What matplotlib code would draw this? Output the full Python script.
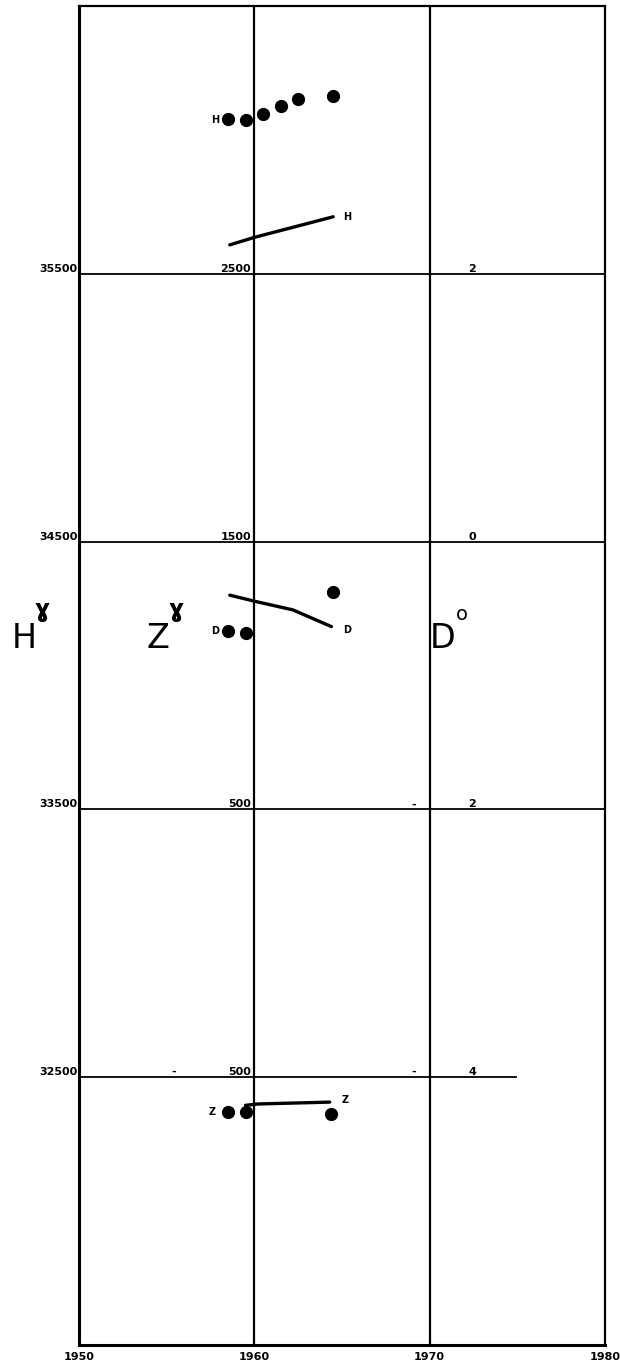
import matplotlib
matplotlib.use("Agg")
import matplotlib.pyplot as plt

# Observatory annual means: H, Z (gamma) and D (degrees) on one sheet.
years_h_dots = [1958.5, 1959.5, 1960.5, 1961.5, 1962.5, 1964.5]
h_dots = [36079, 36075, 36097, 36127, 36153, 36165]

years_h_line = [1958.6, 1960.0, 1964.5]
h_line = [35608, 35636, 35713]

years_d_dots = [1958.5, 1959.5, 1964.5]
d_dots = [-0.67, -0.68, -0.38]

years_d_line = [1958.6, 1960.0, 1962.2, 1964.4]
d_line = [-0.40, -0.445, -0.51, -0.635]

years_z_dots = [1958.5, 1959.5, 1964.4]
z_dots = [-631, -631, -637]

years_z_line = [1959.5, 1960.2, 1964.3]
z_line = [-605, -600, -593]

h_ticks = [35500, 34500, 33500, 32500]
z_ticks = ["2500", "1500", "500", "500"]
d_ticks = ["2", "0", "2", "4"]
minus_z = [False, False, False, True]
minus_d = [False, False, True, True]
x_ticks = [1950, 1960, 1970, 1980]


def z_to_h(z):
    return [v + 33000 for v in z]


def d_to_h(d):
    return [34500 + 500 * v for v in d]


fig = plt.figure(figsize=(6.2, 13.7), dpi=100)
ax = fig.add_axes([79 / 620, 25 / 1370, 526 / 620, 1339 / 1370])
ax.set_xlim(1950, 1980)
ax.set_ylim(31500, 36500)

for side, lw in [("left", 2.2), ("bottom", 2.2), ("right", 1.6), ("top", 1.6)]:
    ax.spines[side].set_linewidth(lw)
    ax.spines[side].set_color("black")

ax.set_xticks(x_ticks)
ax.set_xticklabels([str(y) for y in x_ticks], fontsize=8, fontweight="heavy")
ax.set_yticks([])
ax.tick_params(axis="x", length=0, pad=5)

for x in [1960, 1970]:
    ax.axvline(x, color="black", lw=1.6)
for i, h in enumerate(h_ticks):
    xmax = 0.83 if i == len(h_ticks) - 1 else 1
    ax.axhline(h, xmin=0, xmax=xmax, color="black", lw=1.3)

lbl = dict(fontsize=8, fontweight="heavy", va="bottom")
for i, h in enumerate(h_ticks):
    ax.text(1949.9, h, str(h), ha="right", **lbl)
    ax.text(1959.8, h, z_ticks[i], ha="right", **lbl)
    ax.text(1972.2, h, d_ticks[i], ha="left", **lbl)
    if minus_z[i]:
        ax.text(1955.4, h, "-", ha="center", **lbl)
    if minus_d[i]:
        ax.text(1969.1, h, "-", ha="center", **lbl)

# H
ax.plot(years_h_dots, h_dots, "o", color="black", ms=8.5)
ax.plot(years_h_line, h_line, color="black", lw=2.4, solid_capstyle="round")
ax.text(1957.75, h_dots[1], "H", fontsize=7, fontweight="heavy", ha="center", va="center")
ax.text(1965.3, h_line[-1], "H", fontsize=7, fontweight="heavy", ha="center", va="center")

# D
ax.plot(years_d_dots, d_to_h(d_dots), "o", color="black", ms=8.5)
ax.plot(years_d_line, d_to_h(d_line), color="black", lw=2.4, solid_capstyle="round")
ax.text(1957.75, d_to_h(d_dots)[0], "D", fontsize=7, fontweight="heavy", ha="center", va="center")
ax.text(1965.3, d_to_h([-0.66])[0], "D", fontsize=7, fontweight="heavy", ha="center", va="center")

# Z
ax.plot(years_z_dots, z_to_h(z_dots), "o", color="black", ms=8.5)
ax.plot(years_z_line, z_to_h(z_line), color="black", lw=2.4, solid_capstyle="round")
ax.text(1957.6, z_to_h(z_dots)[0], "Z", fontsize=7, fontweight="heavy", ha="center", va="center")
ax.text(1965.2, z_to_h([-585])[0], "Z", fontsize=7, fontweight="heavy", ha="center", va="center")

# component names with units
big = dict(fontsize=24, va="baseline", color="black")
fig.text(12 / 620, 1 - 648 / 1370, "H", **big)
fig.text(34 / 620, 1 - 617 / 1370, "ɣ", fontsize=17, color="black", fontweight="bold")
fig.text(146 / 620, 1 - 648 / 1370, "Z", **big)
fig.text(168 / 620, 1 - 617 / 1370, "ɣ", fontsize=17, color="black", fontweight="bold")
fig.text(430 / 620, 1 - 648 / 1370, "D", **big)
fig.text(456 / 620, 1 - 620 / 1370, "o", fontsize=14, color="black")

fig.savefig("out.png", dpi=100)
